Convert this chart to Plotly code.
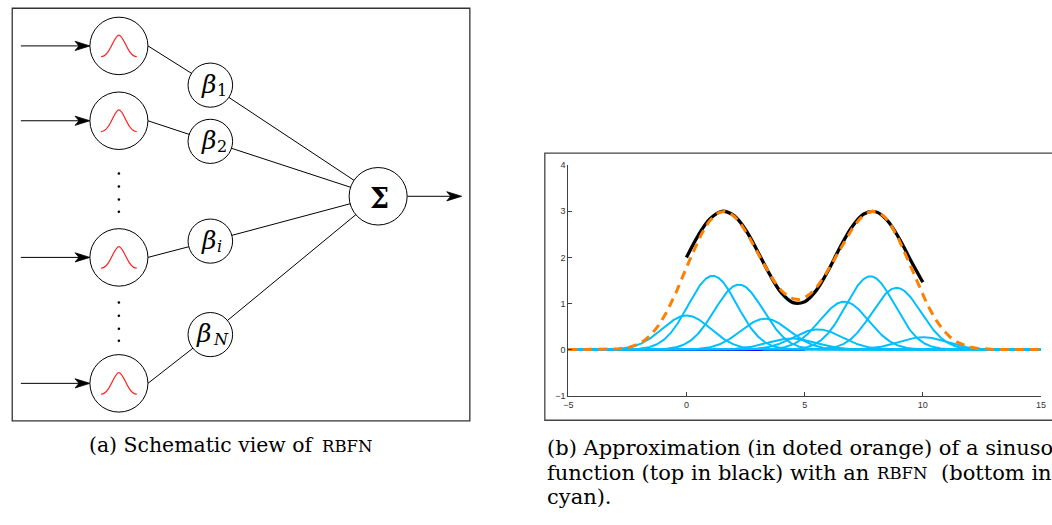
import numpy as np
import plotly.graph_objects as go

W, H = 1052, 525

# ---------------- chart data ----------------
rbf_centers = [0.0, 1.11, 2.22, 3.33, 4.44, 5.56, 6.67, 7.78, 8.89, 10.0]
rbf_weights = [0.74, 1.60, 1.41, 0.67, 0.24, 0.44, 1.04, 1.59, 1.34, 0.27]
rbf_width = 1.03

target_x = [0, 0.5, 1, 1.5, 2, 2.5, 3, 3.5, 4, 4.5, 5, 5.5, 6, 6.5, 7, 7.5, 8, 8.5, 9, 9.5, 10]
target_y = [2.0, 2.48, 2.84, 3.0, 2.91, 2.6, 2.14, 1.65, 1.24, 1.02, 1.04, 1.29, 1.72, 2.22,
            2.66, 2.94, 2.99, 2.80, 2.41, 1.92, 1.46]

input_x = [-5, 5]
input_y = [0, 0]

x_range = [-5, 15]
y_range = [-1, 4]
x_ticks = [-5, 0, 5, 10, 15]
y_ticks = [-1, 0, 1, 2, 3, 4]

# ---------------- schematic texts ----------------
beta_subs = ["1", "2", "i", "N"]
sum_label = "Σ"
caption_a = ["(a) Schematic view of", "RBFN"]
caption_b1 = "(b) Approximation (in doted orange) of a sinusoidal"
caption_b2 = ["function (top in black) with an", "RBFN", "(bottom in"]
caption_b3 = "cyan)."

CYAN = "#00BFFF"
ORANGE = "#FF8000"


def fx(p):
    return p / W


def fy(p):
    return 1 - p / H


fig = go.Figure()

# ---------------- chart traces ----------------
grid = np.linspace(x_range[0], x_range[1], 801)
fig.add_trace(go.Scatter(x=input_x, y=input_y, mode="lines",
                         line=dict(color="#0000FF", width=3), showlegend=False, hoverinfo="skip"))
total = np.zeros_like(grid)
for c, w in zip(rbf_centers, rbf_weights):
    g = w * np.exp(-((grid - c) ** 2) / (2 * rbf_width ** 2))
    total += g
    fig.add_trace(go.Scatter(x=grid, y=g, mode="lines",
                             line=dict(color=CYAN, width=2), showlegend=False, hoverinfo="skip"))
fig.add_trace(go.Scatter(x=target_x, y=target_y, mode="lines",
                         line=dict(color="black", width=3.3, shape="spline"),
                         showlegend=False, hoverinfo="skip"))
fig.add_trace(go.Scatter(x=grid, y=total, mode="lines",
                         line=dict(color=ORANGE, width=3, dash="9px,6px"),
                         showlegend=False, hoverinfo="skip"))

axis_common = dict(showline=True, linecolor="#404040", linewidth=1, ticks="inside", ticklen=4,
                   tickcolor="#404040", showgrid=False, zeroline=False,
                   tickfont=dict(family="Liberation Sans, Arial", size=9, color="#333"))
fig.update_layout(
    xaxis=dict(domain=[fx(568.7), fx(1046)], range=x_range, tickvals=x_ticks, anchor="y", **axis_common),
    yaxis=dict(domain=[fy(398.3), fy(163.3)], range=y_range, tickvals=y_ticks, anchor="x", **axis_common),
)

# ---------------- schematic geometry (pixels) ----------------
g_cx, g_cy, g_r = 115, [41.7, 118, 257.3, 385.7], 29.3
b_cx, b_cy, b_r = 207.3, [81.7, 139, 240.7, 336], 22.5
s_cx, s_cy, s_r = 376.7, 195, 29.3

shapes = []
LINE = dict(color="black", width=1)

shapes.append(dict(type="rect", xref="paper", yref="paper", x0=fx(7.3), x1=fx(469.3), y0=fy(424), y1=fy(3.3),
                   line=dict(color="#333", width=1.3)))
shapes.append(dict(type="rect", xref="paper", yref="paper", x0=fx(545), x1=fx(1070), y0=fy(423.3), y1=fy(151),
                   line=dict(color="#444", width=1.3)))

for gy, by in zip(g_cy, b_cy):
    shapes.append(dict(type="line", xref="paper", yref="paper", x0=fx(g_cx + g_r), y0=fy(gy),
                       x1=fx(b_cx), y1=fy(by), line=LINE))
    shapes.append(dict(type="line", xref="paper", yref="paper", x0=fx(b_cx), y0=fy(by),
                       x1=fx(s_cx), y1=fy(s_cy), line=LINE))


def arrow(x0, x1, y):
    shapes.append(dict(type="line", xref="paper", yref="paper", x0=fx(x0), y0=fy(y),
                       x1=fx(x1 - 10), y1=fy(y), line=LINE))
    pts = [(x1, y), (x1 - 15, y - 4.7), (x1 - 11, y), (x1 - 15, y + 4.7)]
    path = "M" + " L".join(f"{fx(a):.5f},{fy(b):.5f}" for a, b in pts) + " Z"
    shapes.append(dict(type="path", xref="paper", yref="paper", path=path,
                       fillcolor="black", line=dict(color="black", width=0.8)))


for gy in g_cy:
    arrow(16, g_cx - g_r, gy)
arrow(s_cx + s_r, 461, s_cy)


def circle(cx, cy, r):
    shapes.append(dict(type="circle", xref="paper", yref="paper", x0=fx(cx - r), x1=fx(cx + r),
                       y0=fy(cy + r), y1=fy(cy - r), fillcolor="white", line=dict(color="black", width=1)))


for gy in g_cy:
    circle(g_cx, gy, g_r)
for by in b_cy:
    circle(b_cx, by, b_r)
circle(s_cx, s_cy, s_r)

for gy in g_cy:
    cx, cy = g_cx, gy
    P = lambda a, b: f"{fx(cx + a):.5f},{fy(cy + b):.5f}"
    path = (f"M{P(-18, 11)} C{P(-9, 11)} {P(-5, -11)} {P(0, -11)} "
            f"C{P(5, -11)} {P(9, 11)} {P(18, 11)}")
    shapes.append(dict(type="path", xref="paper", yref="paper", path=path,
                       line=dict(color="#FF2020", width=1.2)))

for dy in [171.7, 185, 198.3, 210.7, 303.3, 316.7, 330, 342.3]:
    shapes.append(dict(type="circle", xref="paper", yref="paper", x0=fx(g_cx - 1.3), x1=fx(g_cx + 1.3),
                       y0=fy(dy + 1.3), y1=fy(dy - 1.3), fillcolor="black", line=dict(width=0)))

annotations = []


def text(t, x, y, size, xanchor="center", style="normal", weight="normal"):
    annotations.append(dict(text=t, x=fx(x), y=fy(y), xref="paper", yref="paper",
                            xanchor=xanchor, yanchor="middle", showarrow=False,
                            font=dict(family="DejaVu Serif", size=size, color="black",
                                      style=style, weight=weight)))


beta_dx = [-2.3, -2.3, -2.3, -7.3]
for sub, by, dx in zip(beta_subs, b_cy, beta_dx):
    text("β", b_cx + dx, by - 1, 25, style="italic")
    sub_style = "italic" if sub.isalpha() else "normal"
    text(sub, b_cx + dx + 7.5, by + 5, 16, xanchor="left", style=sub_style)

text(sum_label, s_cx + 1, s_cy + 2, 27, weight="bold")

CAP = 21
SC = 16.5
text(caption_a[0], 83, 449, 20.4, xanchor="left")
text(caption_a[1], 318, 450, SC, xanchor="left")
text(caption_b1, 545, 452, CAP, xanchor="left")
text(caption_b2[0], 545, 477, CAP, xanchor="left")
text(caption_b2[1], 878, 478, SC, xanchor="left")
text(caption_b2[2], 943, 477, CAP, xanchor="left")
text(caption_b3, 545, 502, CAP, xanchor="left")

fig.update_layout(width=W, height=H, autosize=False, margin=dict(l=0, r=0, t=0, b=0),
                  paper_bgcolor="white", plot_bgcolor="white", shapes=shapes, annotations=annotations,
                  showlegend=False)

fig.write_html("out.html", config={"displayModeBar": False},
               post_script="document.body.style.margin='0px';document.body.style.overflow='hidden';")
